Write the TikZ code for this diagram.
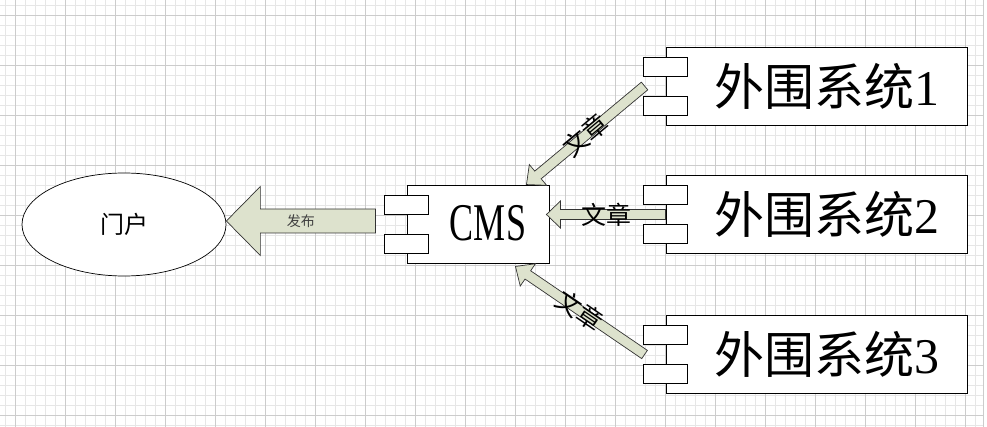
\documentclass[tikz,border=0pt]{standalone}
\usepackage{fontspec}
\setmainfont{Liberation Serif}
\newfontfamily\cjk{Noto Sans CJK SC}
\usepackage{graphicx}
\usetikzlibrary{shapes.geometric,calc}

\definecolor{arrowfill}{RGB}{221,226,205}
\definecolor{gridminor}{RGB}{230,230,230}
\definecolor{gridmajor}{RGB}{204,204,204}

\tikzset{
  compbox/.style={draw, fill=white, line width=0.9pt, inner sep=0pt},
  port/.style={draw, fill=white, line width=0.9pt, minimum width=44pt, minimum height=19pt, inner sep=0pt},
  blockarrow/.style={draw=black!80, fill=arrowfill, line width=0.7pt, line join=miter},
  pubtext/.style={font=\cjk\fontsize{14}{16}\selectfont, text=black!75},
  arttext/.style={font=\cjk\fontsize{25}{28}\selectfont},
}

% 粗箭头: 起点, 终点, 半杆宽, 半头宽, 头长, 文字样式, 文字
\newcommand{\fatarrow}[7]{%
  \coordinate (hb) at ($(#2)!#5!(#1)$);
  \draw[blockarrow] ($(#1)!#3!90:(#2)$) -- ($(hb)!#3!-90:(#1)$) -- ($(hb)!#4!-90:(#1)$)
    -- (#2) -- ($(hb)!#4!90:(#1)$) -- ($(hb)!#3!90:(#1)$) -- ($(#1)!#3!-90:(#2)$) -- cycle;
  \path (#1) -- node[sloped, #6] {#7} (#2);
}

\begin{document}
\begin{tikzpicture}[x=1pt, y=-1pt]
    \useasboundingbox (0,0) rectangle (987,427);

    % 背景网格
    \foreach \x in {5,15,...,975} \draw[gridminor, line width=0.8pt] (\x,0) -- (\x,427);
    \foreach \y in {5,15,...,425} \draw[gridminor, line width=0.8pt] (0,\y) -- (983,\y);
    \foreach \x in {15,65,...,965} \draw[gridmajor, line width=0.8pt] (\x,0) -- (\x,427);
    \foreach \y in {15,65,...,415} \draw[gridmajor, line width=0.8pt] (0,\y) -- (983,\y);
    \draw[gridmajor, line width=0.8pt] (983,0) -- (983,427);

    % 门户
    \node[ellipse, draw, fill=white, line width=0.7pt, minimum width=204pt, minimum height=103pt]
      (portal) at (124,224.5) {\cjk\fontsize{24}{28}\selectfont 门户};

    % CMS
    \node[compbox, minimum width=142pt, minimum height=78pt] (cms) at (478,224)
      {\fontsize{53}{60}\selectfont\hspace{20pt}\raisebox{3pt}{\scalebox{0.68}[1]{CMS}}};
    \node[port, anchor=north] (cmsa) at ([yshift=-10pt]cms.north west) {};
    \node[port, anchor=south] (cmsb) at ([yshift=10pt]cms.south west) {};

    % 外围系统1
    \node[compbox, minimum width=301pt, minimum height=78pt] (sys1) at (816.5,86)
      {\fontsize{50}{56}\selectfont\hspace{20pt}{\cjk 外围系统}1};
    \node[port, anchor=north] (sys1a) at ([yshift=-10pt]sys1.north west) {};
    \node[port, anchor=south] (sys1b) at ([yshift=10pt]sys1.south west) {};

    % 外围系统2
    \node[compbox, minimum width=301pt, minimum height=78pt] (sys2) at (816.5,214.5)
      {\fontsize{50}{56}\selectfont\hspace{20pt}{\cjk 外围系统}2};
    \node[port, anchor=north] (sys2a) at ([yshift=-10pt]sys2.north west) {};
    \node[port, anchor=south] (sys2b) at ([yshift=10pt]sys2.south west) {};

    % 外围系统3
    \node[compbox, minimum width=301pt, minimum height=78pt] (sys3) at (816.5,354.5)
      {\fontsize{50}{56}\selectfont\hspace{20pt}{\cjk 外围系统}3};
    \node[port, anchor=north] (sys3a) at ([yshift=-10pt]sys3.north west) {};
    \node[port, anchor=south] (sys3b) at ([yshift=10pt]sys3.south west) {};

    % 箭头端点
    \coordinate (pubfrom) at ([xshift=-31pt, yshift=3pt]cms.west);
    \coordinate (pubto) at (portal.east |- pubfrom);
    \coordinate (from1) at ([xshift=-21pt]sys1.west);
    \coordinate (to1) at ([xshift=-23pt]cms.north east);
    \coordinate (from2) at (sys2.west);
    \coordinate (to2) at ($(cms.east |- sys2.west)+(-3,0)$);
    \coordinate (from3) at ([xshift=-21pt]sys3.west);
    \coordinate (to3) at ([xshift=-34pt, yshift=-3pt]cms.south east);

    % 箭头(发布 / 文章)
    \fatarrow{pubfrom}{pubto}{12pt}{34.5pt}{34pt}{pubtext}{发布}
    \fatarrow{from1}{to1}{5pt}{13.5pt}{15pt}{arttext}{文章}
    \fatarrow{from2}{to2}{5pt}{13.5pt}{14pt}{arttext}{文章}
    \fatarrow{from3}{to3}{5pt}{13.5pt}{15pt}{arttext}{文章}
\end{tikzpicture}
\end{document}
